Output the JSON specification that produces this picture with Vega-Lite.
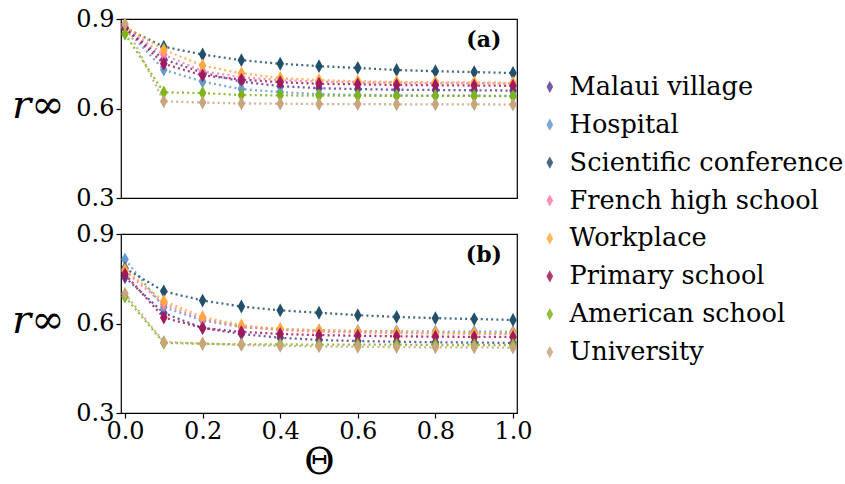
{
  "$schema": "https://vega.github.io/schema/vega-lite/v6.json",
  "padding": {"left": 10, "top": 6, "right": 0, "bottom": 0},
  "background": "white",
  "config": {
    "font": "DejaVu Serif",
    "view": {"stroke": "black", "strokeWidth": 1.2},
    "axis": {"grid": false, "domain": false, "tickColor": "black", "tickSize": 5, "tickWidth": 1.2, "labelFont": "DejaVu Serif", "labelFontSize": 24, "labelColor": "black", "titleColor": "black"}
  },
  "data": {"values": [
    {"panel":"a","setting":"Malaui village","theta":0,"r":0.87},{"panel":"a","setting":"Malaui village","theta":0.1,"r":0.765},{"panel":"a","setting":"Malaui village","theta":0.2,"r":0.72},{"panel":"a","setting":"Malaui village","theta":0.3,"r":0.69},{"panel":"a","setting":"Malaui village","theta":0.4,"r":0.675},{"panel":"a","setting":"Malaui village","theta":0.5,"r":0.668},{"panel":"a","setting":"Malaui village","theta":0.6,"r":0.665},{"panel":"a","setting":"Malaui village","theta":0.7,"r":0.663},{"panel":"a","setting":"Malaui village","theta":0.8,"r":0.662},{"panel":"a","setting":"Malaui village","theta":0.9,"r":0.661},{"panel":"a","setting":"Malaui village","theta":1.0,"r":0.66},
    {"panel":"a","setting":"Hospital","theta":0,"r":0.87},{"panel":"a","setting":"Hospital","theta":0.1,"r":0.73},{"panel":"a","setting":"Hospital","theta":0.2,"r":0.69},{"panel":"a","setting":"Hospital","theta":0.3,"r":0.665},{"panel":"a","setting":"Hospital","theta":0.4,"r":0.655},{"panel":"a","setting":"Hospital","theta":0.5,"r":0.648},{"panel":"a","setting":"Hospital","theta":0.6,"r":0.645},{"panel":"a","setting":"Hospital","theta":0.7,"r":0.644},{"panel":"a","setting":"Hospital","theta":0.8,"r":0.643},{"panel":"a","setting":"Hospital","theta":0.9,"r":0.643},{"panel":"a","setting":"Hospital","theta":1.0,"r":0.642},
    {"panel":"a","setting":"Scientific conference","theta":0,"r":0.87},{"panel":"a","setting":"Scientific conference","theta":0.1,"r":0.807},{"panel":"a","setting":"Scientific conference","theta":0.2,"r":0.781},{"panel":"a","setting":"Scientific conference","theta":0.3,"r":0.762},{"panel":"a","setting":"Scientific conference","theta":0.4,"r":0.75},{"panel":"a","setting":"Scientific conference","theta":0.5,"r":0.742},{"panel":"a","setting":"Scientific conference","theta":0.6,"r":0.736},{"panel":"a","setting":"Scientific conference","theta":0.7,"r":0.729},{"panel":"a","setting":"Scientific conference","theta":0.8,"r":0.725},{"panel":"a","setting":"Scientific conference","theta":0.9,"r":0.722},{"panel":"a","setting":"Scientific conference","theta":1.0,"r":0.719},
    {"panel":"a","setting":"French high school","theta":0,"r":0.87},{"panel":"a","setting":"French high school","theta":0.1,"r":0.78},{"panel":"a","setting":"French high school","theta":0.2,"r":0.725},{"panel":"a","setting":"French high school","theta":0.3,"r":0.705},{"panel":"a","setting":"French high school","theta":0.4,"r":0.695},{"panel":"a","setting":"French high school","theta":0.5,"r":0.69},{"panel":"a","setting":"French high school","theta":0.6,"r":0.688},{"panel":"a","setting":"French high school","theta":0.7,"r":0.686},{"panel":"a","setting":"French high school","theta":0.8,"r":0.685},{"panel":"a","setting":"French high school","theta":0.9,"r":0.685},{"panel":"a","setting":"French high school","theta":1.0,"r":0.684},
    {"panel":"a","setting":"Workplace","theta":0,"r":0.875},{"panel":"a","setting":"Workplace","theta":0.1,"r":0.797},{"panel":"a","setting":"Workplace","theta":0.2,"r":0.744},{"panel":"a","setting":"Workplace","theta":0.3,"r":0.718},{"panel":"a","setting":"Workplace","theta":0.4,"r":0.702},{"panel":"a","setting":"Workplace","theta":0.5,"r":0.695},{"panel":"a","setting":"Workplace","theta":0.6,"r":0.691},{"panel":"a","setting":"Workplace","theta":0.7,"r":0.689},{"panel":"a","setting":"Workplace","theta":0.8,"r":0.688},{"panel":"a","setting":"Workplace","theta":0.9,"r":0.687},{"panel":"a","setting":"Workplace","theta":1.0,"r":0.686},
    {"panel":"a","setting":"Primary school","theta":0,"r":0.87},{"panel":"a","setting":"Primary school","theta":0.1,"r":0.75},{"panel":"a","setting":"Primary school","theta":0.2,"r":0.711},{"panel":"a","setting":"Primary school","theta":0.3,"r":0.697},{"panel":"a","setting":"Primary school","theta":0.4,"r":0.688},{"panel":"a","setting":"Primary school","theta":0.5,"r":0.683},{"panel":"a","setting":"Primary school","theta":0.6,"r":0.681},{"panel":"a","setting":"Primary school","theta":0.7,"r":0.679},{"panel":"a","setting":"Primary school","theta":0.8,"r":0.678},{"panel":"a","setting":"Primary school","theta":0.9,"r":0.677},{"panel":"a","setting":"Primary school","theta":1.0,"r":0.676},
    {"panel":"a","setting":"American school","theta":0,"r":0.85},{"panel":"a","setting":"American school","theta":0.1,"r":0.654},{"panel":"a","setting":"American school","theta":0.2,"r":0.652},{"panel":"a","setting":"American school","theta":0.3,"r":0.645},{"panel":"a","setting":"American school","theta":0.4,"r":0.644},{"panel":"a","setting":"American school","theta":0.5,"r":0.643},{"panel":"a","setting":"American school","theta":0.6,"r":0.643},{"panel":"a","setting":"American school","theta":0.7,"r":0.642},{"panel":"a","setting":"American school","theta":0.8,"r":0.642},{"panel":"a","setting":"American school","theta":0.9,"r":0.642},{"panel":"a","setting":"American school","theta":1.0,"r":0.641},
    {"panel":"a","setting":"University","theta":0,"r":0.883},{"panel":"a","setting":"University","theta":0.1,"r":0.624},{"panel":"a","setting":"University","theta":0.2,"r":0.62},{"panel":"a","setting":"University","theta":0.3,"r":0.617},{"panel":"a","setting":"University","theta":0.4,"r":0.616},{"panel":"a","setting":"University","theta":0.5,"r":0.615},{"panel":"a","setting":"University","theta":0.6,"r":0.615},{"panel":"a","setting":"University","theta":0.7,"r":0.614},{"panel":"a","setting":"University","theta":0.8,"r":0.614},{"panel":"a","setting":"University","theta":0.9,"r":0.614},{"panel":"a","setting":"University","theta":1.0,"r":0.613},
    {"panel":"b","setting":"Malaui village","theta":0,"r":0.755},{"panel":"b","setting":"Malaui village","theta":0.1,"r":0.635},{"panel":"b","setting":"Malaui village","theta":0.2,"r":0.585},{"panel":"b","setting":"Malaui village","theta":0.3,"r":0.565},{"panel":"b","setting":"Malaui village","theta":0.4,"r":0.552},{"panel":"b","setting":"Malaui village","theta":0.5,"r":0.545},{"panel":"b","setting":"Malaui village","theta":0.6,"r":0.541},{"panel":"b","setting":"Malaui village","theta":0.7,"r":0.539},{"panel":"b","setting":"Malaui village","theta":0.8,"r":0.537},{"panel":"b","setting":"Malaui village","theta":0.9,"r":0.536},{"panel":"b","setting":"Malaui village","theta":1.0,"r":0.535},
    {"panel":"b","setting":"Hospital","theta":0,"r":0.815},{"panel":"b","setting":"Hospital","theta":0.1,"r":0.655},{"panel":"b","setting":"Hospital","theta":0.2,"r":0.61},{"panel":"b","setting":"Hospital","theta":0.3,"r":0.588},{"panel":"b","setting":"Hospital","theta":0.4,"r":0.58},{"panel":"b","setting":"Hospital","theta":0.5,"r":0.577},{"panel":"b","setting":"Hospital","theta":0.6,"r":0.575},{"panel":"b","setting":"Hospital","theta":0.7,"r":0.574},{"panel":"b","setting":"Hospital","theta":0.8,"r":0.573},{"panel":"b","setting":"Hospital","theta":0.9,"r":0.573},{"panel":"b","setting":"Hospital","theta":1.0,"r":0.572},
    {"panel":"b","setting":"Scientific conference","theta":0,"r":0.785},{"panel":"b","setting":"Scientific conference","theta":0.1,"r":0.708},{"panel":"b","setting":"Scientific conference","theta":0.2,"r":0.677},{"panel":"b","setting":"Scientific conference","theta":0.3,"r":0.657},{"panel":"b","setting":"Scientific conference","theta":0.4,"r":0.644},{"panel":"b","setting":"Scientific conference","theta":0.5,"r":0.636},{"panel":"b","setting":"Scientific conference","theta":0.6,"r":0.628},{"panel":"b","setting":"Scientific conference","theta":0.7,"r":0.622},{"panel":"b","setting":"Scientific conference","theta":0.8,"r":0.618},{"panel":"b","setting":"Scientific conference","theta":0.9,"r":0.615},{"panel":"b","setting":"Scientific conference","theta":1.0,"r":0.612},
    {"panel":"b","setting":"French high school","theta":0,"r":0.775},{"panel":"b","setting":"French high school","theta":0.1,"r":0.665},{"panel":"b","setting":"French high school","theta":0.2,"r":0.615},{"panel":"b","setting":"French high school","theta":0.3,"r":0.59},{"panel":"b","setting":"French high school","theta":0.4,"r":0.578},{"panel":"b","setting":"French high school","theta":0.5,"r":0.573},{"panel":"b","setting":"French high school","theta":0.6,"r":0.57},{"panel":"b","setting":"French high school","theta":0.7,"r":0.568},{"panel":"b","setting":"French high school","theta":0.8,"r":0.567},{"panel":"b","setting":"French high school","theta":0.9,"r":0.566},{"panel":"b","setting":"French high school","theta":1.0,"r":0.565},
    {"panel":"b","setting":"Workplace","theta":0,"r":0.78},{"panel":"b","setting":"Workplace","theta":0.1,"r":0.675},{"panel":"b","setting":"Workplace","theta":0.2,"r":0.622},{"panel":"b","setting":"Workplace","theta":0.3,"r":0.594},{"panel":"b","setting":"Workplace","theta":0.4,"r":0.582},{"panel":"b","setting":"Workplace","theta":0.5,"r":0.577},{"panel":"b","setting":"Workplace","theta":0.6,"r":0.573},{"panel":"b","setting":"Workplace","theta":0.7,"r":0.571},{"panel":"b","setting":"Workplace","theta":0.8,"r":0.569},{"panel":"b","setting":"Workplace","theta":0.9,"r":0.568},{"panel":"b","setting":"Workplace","theta":1.0,"r":0.567},
    {"panel":"b","setting":"Primary school","theta":0,"r":0.765},{"panel":"b","setting":"Primary school","theta":0.1,"r":0.62},{"panel":"b","setting":"Primary school","theta":0.2,"r":0.585},{"panel":"b","setting":"Primary school","theta":0.3,"r":0.572},{"panel":"b","setting":"Primary school","theta":0.4,"r":0.565},{"panel":"b","setting":"Primary school","theta":0.5,"r":0.561},{"panel":"b","setting":"Primary school","theta":0.6,"r":0.559},{"panel":"b","setting":"Primary school","theta":0.7,"r":0.557},{"panel":"b","setting":"Primary school","theta":0.8,"r":0.556},{"panel":"b","setting":"Primary school","theta":0.9,"r":0.555},{"panel":"b","setting":"Primary school","theta":1.0,"r":0.555},
    {"panel":"b","setting":"American school","theta":0,"r":0.69},{"panel":"b","setting":"American school","theta":0.1,"r":0.535},{"panel":"b","setting":"American school","theta":0.2,"r":0.532},{"panel":"b","setting":"American school","theta":0.3,"r":0.53},{"panel":"b","setting":"American school","theta":0.4,"r":0.53},{"panel":"b","setting":"American school","theta":0.5,"r":0.529},{"panel":"b","setting":"American school","theta":0.6,"r":0.529},{"panel":"b","setting":"American school","theta":0.7,"r":0.529},{"panel":"b","setting":"American school","theta":0.8,"r":0.528},{"panel":"b","setting":"American school","theta":0.9,"r":0.528},{"panel":"b","setting":"American school","theta":1.0,"r":0.528},
    {"panel":"b","setting":"University","theta":0,"r":0.70},{"panel":"b","setting":"University","theta":0.1,"r":0.538},{"panel":"b","setting":"University","theta":0.2,"r":0.533},{"panel":"b","setting":"University","theta":0.3,"r":0.528},{"panel":"b","setting":"University","theta":0.4,"r":0.525},{"panel":"b","setting":"University","theta":0.5,"r":0.523},{"panel":"b","setting":"University","theta":0.6,"r":0.522},{"panel":"b","setting":"University","theta":0.7,"r":0.521},{"panel":"b","setting":"University","theta":0.8,"r":0.52},{"panel":"b","setting":"University","theta":0.9,"r":0.52},{"panel":"b","setting":"University","theta":1.0,"r":0.519}
  ]},
  "bounds": "flush",
  "spacing": 36,
  "vconcat": [
    {
      "width": 396, "height": 179,
      "layer": [
        {"transform": [{"filter": "datum.panel === 'a'"}],
         "mark": {"type": "line", "strokeDash": [2, 3.2], "strokeWidth": 2.3, "opacity": 0.85},
         "encoding": {
           "x": {"field": "theta", "type": "quantitative", "scale": {"domain": [-0.0103, 1.0103], "nice": false, "zero": false}, "axis": null},
           "y": {"field": "r", "type": "quantitative", "scale": {"domain": [0.3, 0.9], "nice": false, "zero": false},
                 "axis": {"values": [0.3, 0.6, 0.9], "format": ".1f", "title": "r∞", "titleFont": "DejaVu Serif", "titleFontStyle": "italic", "titleFontWeight": "normal", "titleFontSize": 40, "titleAngle": 0, "titleAlign": "right", "titleBaseline": "middle", "titleX": -57, "titleY": 86}},
           "color": {"field": "setting", "type": "nominal",
                     "scale": {"domain": ["Malaui village", "Hospital", "Scientific conference", "French high school", "Workplace", "Primary school", "American school", "University"],
                               "range": ["#5E3C99", "#6699CC", "#22506A", "#FF7BAC", "#FFA940", "#A2195B", "#7CB518", "#C9A57E"]},
                     "legend": {"title": null, "orient": "none", "legendX": 416, "legendY": 55, "padding": 0, "symbolType": "M0,-1L0.55,0L0,1L-0.55,0Z", "symbolSize": 150, "symbolStrokeWidth": 0, "labelFont": "DejaVu Serif", "labelFontSize": 25.6, "labelLimit": 0, "labelColor": "black", "rowPadding": 10.9, "labelOffset": 7}}
         }},
        {"transform": [{"filter": "datum.panel === 'a'"}],
         "mark": {"type": "point", "shape": "M0,-1L0.55,0L0,1L-0.55,0Z", "size": 190, "filled": true, "opacity": 1},
         "encoding": {
           "x": {"field": "theta", "type": "quantitative"},
           "y": {"field": "r", "type": "quantitative"},
           "color": {"field": "setting", "type": "nominal"}
         }},
        {"data": {"values": [{"label": "(a)"}]},
         "mark": {"type": "text", "font": "DejaVu Serif", "fontWeight": "bold", "fontSize": 22, "color": "black", "align": "center", "baseline": "middle"},
         "encoding": {"x": {"datum": 0.925}, "y": {"datum": 0.83}, "text": {"field": "label"}}}
      ]
    },
    {
      "width": 396, "height": 179,
      "layer": [
        {"transform": [{"filter": "datum.panel === 'b'"}],
         "mark": {"type": "line", "strokeDash": [2, 3.2], "strokeWidth": 2.3, "opacity": 0.85},
         "encoding": {
           "x": {"field": "theta", "type": "quantitative", "scale": {"domain": [-0.0103, 1.0103], "nice": false, "zero": false},
                 "axis": {"values": [0, 0.2, 0.4, 0.6, 0.8, 1.0], "format": ".1f", "title": "Θ", "titleFont": "DejaVu Serif", "titleFontWeight": "normal", "titleFontSize": 37, "titlePadding": 1, "labelPadding": 1}},
           "y": {"field": "r", "type": "quantitative", "scale": {"domain": [0.3, 0.9], "nice": false, "zero": false},
                 "axis": {"values": [0.3, 0.6, 0.9], "format": ".1f", "title": "r∞", "titleFont": "DejaVu Serif", "titleFontStyle": "italic", "titleFontWeight": "normal", "titleFontSize": 40, "titleAngle": 0, "titleAlign": "right", "titleBaseline": "middle", "titleX": -57, "titleY": 86}},
           "color": {"field": "setting", "type": "nominal"}
         }},
        {"transform": [{"filter": "datum.panel === 'b'"}],
         "mark": {"type": "point", "shape": "M0,-1L0.55,0L0,1L-0.55,0Z", "size": 190, "filled": true, "opacity": 1},
         "encoding": {
           "x": {"field": "theta", "type": "quantitative"},
           "y": {"field": "r", "type": "quantitative"},
           "color": {"field": "setting", "type": "nominal"}
         }},
        {"data": {"values": [{"label": "(b)"}]},
         "mark": {"type": "text", "font": "DejaVu Serif", "fontWeight": "bold", "fontSize": 22, "color": "black", "align": "center", "baseline": "middle"},
         "encoding": {"x": {"datum": 0.925}, "y": {"datum": 0.83}, "text": {"field": "label"}}}
      ]
    }
  ]
}
